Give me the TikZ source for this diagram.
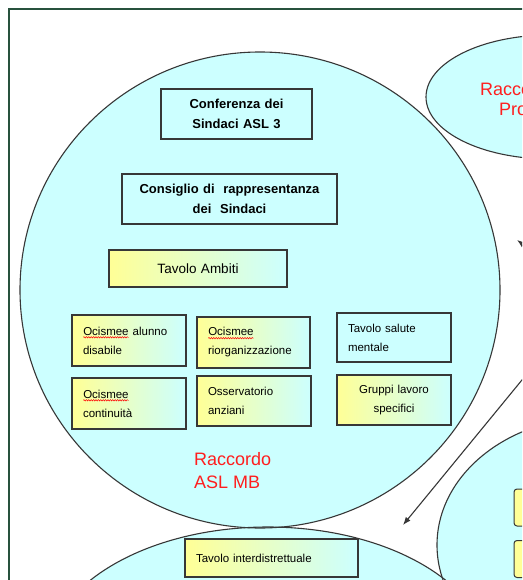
\documentclass[tikz,border=0pt]{standalone}
\usepackage{fontspec}
\setmainfont{Liberation Sans}
\usetikzlibrary{arrows.meta,decorations.pathmorphing}
\definecolor{cyn}{RGB}{204,255,255}
\definecolor{yel}{RGB}{255,255,150}
\definecolor{framegreen}{RGB}{40,82,62}
\definecolor{edgegray}{RGB}{55,55,55}
\definecolor{txtred}{RGB}{255,30,30}
\newcommand\redwave[1]{\tikz[baseline=(w.base)]{\node[inner sep=0pt,outer sep=0pt,text width={},align=none,draw=none,minimum width=0pt,minimum height=0pt] (w) {#1};\draw[red,line width=0.5pt,decorate,decoration={snake,amplitude=0.7pt,segment length=2.4pt}] ([yshift=-2.2pt]w.base west) -- ([yshift=-2.2pt]w.base east);}}
\begin{document}
\begin{tikzpicture}[x=1pt,y=-1pt,
  outline/.style={draw=edgegray,line width=1.1pt},
  box/.style={draw=edgegray,line width=1.1pt,rectangle,inner xsep=11pt,inner ysep=0pt,
    font=\fontsize{11.5}{19}\selectfont,align=left},
  gbox/.style={box,left color=yel,right color=cyn},
  cbox/.style={box,fill=cyn},
  bbox/.style={box,font=\fontsize{13}{20}\selectfont\bfseries,align=center},
  ybox/.style={draw=edgegray,line width=1pt,fill=yel,rounded corners=3pt,minimum width=30pt,minimum height=37pt},
  redtxt/.style={text=txtred,font=\fontsize{18}{23}\selectfont,inner sep=0pt},
  link/.style={draw=edgegray,line width=1.1pt,-{Latex[length=8pt,width=6pt]}}]
\useasboundingbox (0,0) rectangle (522,580);
\begin{scope}
\clip (0,0) rectangle (522,580);
\fill[white] (0,0) rectangle (522,580);
\coordinate (cmain) at (260,290);
\coordinate (ctr) at (550,97);
\coordinate (cr) at (597,545);
\coordinate (cb) at (268,660);
% fills
\fill[cyn] (cmain) ellipse [x radius=240pt,y radius=238pt];
\fill[cyn] (ctr) ellipse [x radius=124pt,y radius=62pt];
\fill[cyn] (cr) ellipse [x radius=160pt,y radius=128pt];
\fill[cyn] (cb) ellipse [x radius=222pt,y radius=133pt];
% outlines
\draw[outline] (cmain) ellipse [x radius=240pt,y radius=238pt];
\draw[outline] (ctr) ellipse [x radius=124pt,y radius=62pt];
\draw[outline] (cr) ellipse [x radius=160pt,y radius=128pt];
\draw[outline] (cb) ellipse [x radius=222pt,y radius=133pt];
% boxes main circle
\node[bbox,text width=129pt,minimum height=50pt] (conf) at (236.5,114) {Conferenza dei\\Sindaci ASL 3};
\node[bbox,text width=193pt,minimum height=50pt] (cons) at (229.5,199) {Consiglio di~ rappresentanza\\dei~ Sindaci};
\node[gbox,font=\fontsize{13.5}{19}\selectfont,align=center,text width=156pt,minimum height=37pt] (amb) at (198,268.5) {Tavolo Ambiti};
\node[gbox,text width=92pt,minimum height=51pt] (oa) at (129,340.5) {\redwave{Ocismee} alunno\\disabile};
\node[gbox,text width=91pt,minimum height=51pt] (or) at (253.5,342.5) {\redwave{Ocismee}\\riorganizzazione};
\node[cbox,text width=92pt,minimum height=49pt] (tsm) at (394,337.5) {Tavolo salute\\mentale};
\node[gbox,text width=92pt,minimum height=51pt] (oc) at (129,403.5) {\redwave{Ocismee}\\continuità};
\node[gbox,text width=92pt,minimum height=50pt] (oss) at (254,401) {Osservatorio\\anziani};
\node[gbox,align=center,text width=92pt,minimum height=50pt] (gl) at (394,400) {Gruppi lavoro\\specifici};
\node[redtxt,anchor=north west,align=left] (asl) at (194,452) {Raccordo\\ASL MB};
% top right ellipse label
\node[redtxt,anchor=base west] (rp1) at (480,96) {Racco};
\node[redtxt,anchor=base west] (rp2) at (499,116) {Pro};
% right ellipse boxes
\node[ybox] (r1) at (529,507.5) {};
\node[ybox] (r2) at (529,559) {};
% bottom ellipse box
\node[gbox,text width=151pt,minimum height=38pt] (ti) at (271.5,558) {Tavolo interdistrettuale};
% arrows
\coordinate (a1s) at (532,251);
\coordinate (a1t) at (517,240);
\coordinate (a2s) at (540,358);
\coordinate (a2t) at (403,525);
\draw[link] (a1s) -- (a1t);
\draw[link] (a2s) -- (a2t);
% frame
\draw[framegreen,line width=2pt] (8.5,9.5) rectangle (545,600);
\end{scope}
\end{tikzpicture}
\end{document}
